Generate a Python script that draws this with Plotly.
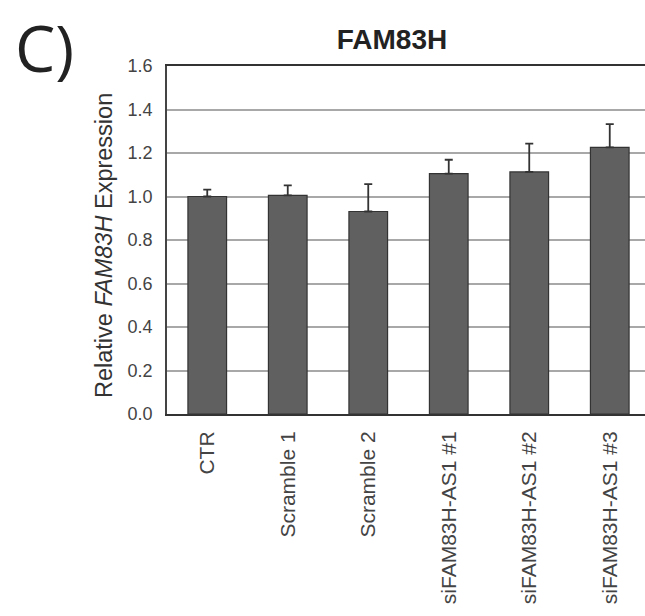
import plotly.graph_objects as go

categories = ["CTR", "Scramble 1", "Scramble 2", "siFAM83H-AS1 #1", "siFAM83H-AS1 #2", "siFAM83H-AS1 #3"]
values = [1.00, 1.005, 0.931, 1.105, 1.113, 1.226]
errors = [0.032, 0.046, 0.126, 0.064, 0.130, 0.107]
y_ticks = [0.0, 0.2, 0.4, 0.6, 0.8, 1.0, 1.2, 1.4, 1.6]

W, H = 645, 616
L, T, B, R = 167, 66, 202, 0
PW = W - L - R
slot = 80.5

def px_x(px):
    return (px - L) / PW

def px_y(py):
    return 1 - (py - T) / (H - T - B)

fig = go.Figure()
fig.add_trace(go.Bar(
    x=list(range(len(categories))),
    y=values,
    width=0.48,
    marker=dict(color="#606060", line=dict(color="#333333", width=1.2)),
    error_y=dict(type="data", symmetric=False, array=errors,
                 arrayminus=[0] * len(errors),
                 color="#333333", thickness=1.8, width=4),
))

fig.update_layout(
    width=W, height=H,
    margin=dict(l=L, r=R, t=T, b=B, pad=0),
    paper_bgcolor="white", plot_bgcolor="white",
    showlegend=False,
    font=dict(family="Liberation Sans, Arial", color="#444444"),
    title=dict(text="<b>FAM83H</b>", x=392 / W, xref="container", xanchor="center",
               y=1 - 39 / H, yref="container", yanchor="middle",
               font=dict(size=28, color="#222222", family="Liberation Sans, Arial")),
    bargap=0.5,
)

fig.update_xaxes(
    range=[-0.5, -0.5 + PW / slot],
    tickmode="array",
    tickvals=list(range(len(categories))),
    ticktext=categories,
    tickangle=-90,
    tickfont=dict(size=21, color="#444444"),
    showline=True, linecolor="#333333", linewidth=2, mirror=True,
    showgrid=False, ticks="", ticklabelstandoff=7,
    fixedrange=True,
)
fig.update_yaxes(
    range=[0, 1.6],
    tickmode="array",
    tickvals=y_ticks,
    ticktext=[f"{v:.1f}" for v in y_ticks],
    tickfont=dict(size=18, color="#444444"),
    showline=True, linecolor="#444444", linewidth=1.5,
    showgrid=True, gridcolor="#a8a8a8", gridwidth=1.5,
    zeroline=False, ticks="", ticklabelstandoff=9,
    fixedrange=True,
)

fig.add_annotation(
    text="Relative <i>FAM83H</i> Expression",
    xref="paper", yref="paper",
    x=px_x(104), y=px_y(246),
    xanchor="center", yanchor="middle",
    textangle=-90, showarrow=False,
    font=dict(size=23.5, color="#333333", family="Liberation Sans, Arial"),
)
fig.add_annotation(
    text="C)",
    xref="paper", yref="paper",
    x=px_x(44), y=px_y(47),
    xanchor="center", yanchor="middle",
    showarrow=False,
    font=dict(size=64, color="#222222", family="Open Sans"),
)

fig.write_html("out.html")
